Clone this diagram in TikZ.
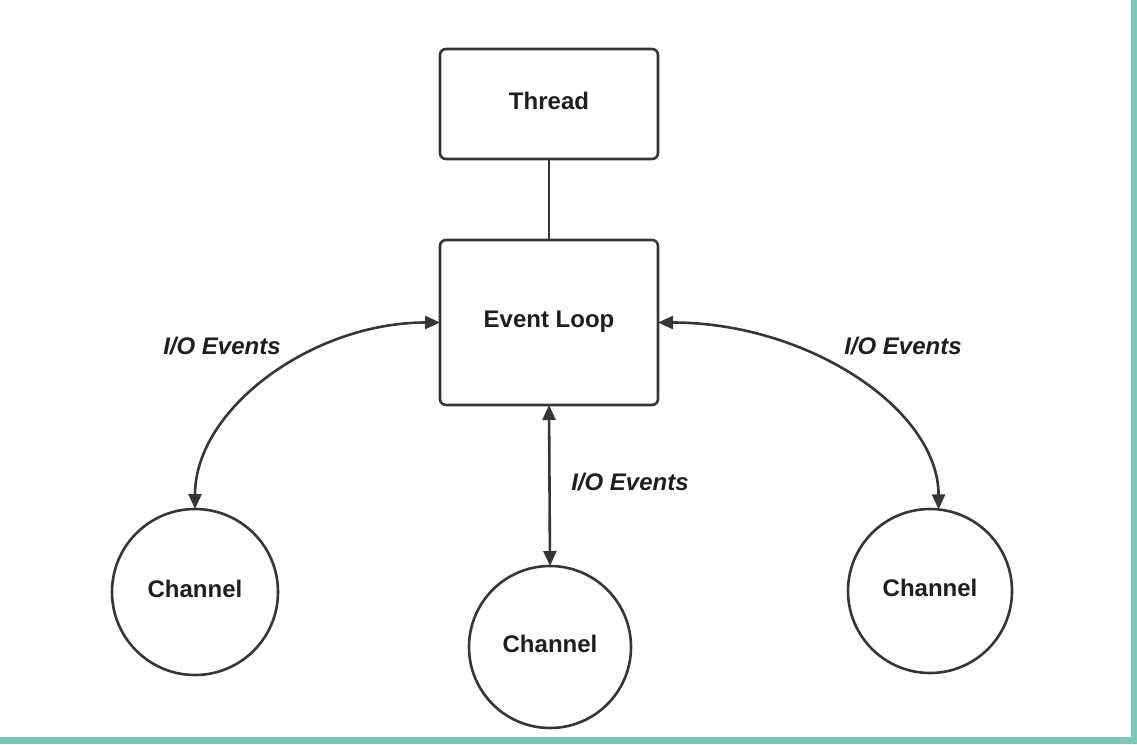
\documentclass[tikz,border=0pt]{standalone}
\usepackage{fontspec}
\setmainfont{Liberation Sans}
\usetikzlibrary{arrows.meta,calc}
\definecolor{linegray}{HTML}{363636}
\definecolor{textgray}{HTML}{1E1E1E}
\definecolor{teal}{HTML}{7CC6B6}
\tikzset{
  box/.style={draw=linegray, line width=2.6pt, rounded corners=6pt, fill=white,
    minimum width=218pt, inner sep=0pt, outer sep=0pt, text depth=6pt,
    font=\fontsize{24}{28}\selectfont\bfseries, text=textgray},
  chan/.style={draw=linegray, line width=2.6pt, circle, fill=white,
    inner sep=0pt, outer sep=0pt, text depth=6pt,
    font=\fontsize{24}{28}\selectfont\bfseries, text=textgray},
  lbl/.style={font=\fontsize{24}{28}\selectfont\bfseries\itshape, text=textgray, inner sep=0pt},
  conn/.style={draw=linegray, line width=2.6pt},
  biarrow/.style={conn, {Triangle[length=15pt,width=13pt]}-{Triangle[length=15pt,width=13pt]}}
}
\begin{document}
\begin{tikzpicture}[x=1pt,y=-1pt]
\useasboundingbox (0,0) rectangle (1137,744);
\fill[white] (0,0) rectangle (1137,744);
\fill[teal] (0,737) rectangle (1137,744);
\fill[teal] (1131,0) rectangle (1137,744);

\node[box, minimum height=110pt] (thread) at (549,104) {Thread};
\node[box, minimum height=165pt] (ev) at (549,322.5) {Event Loop};

\node[chan, minimum size=166pt] (chL) at (195,592) {Channel};
\node[chan, minimum size=162pt] (chM) at (550,647) {Channel};
\node[chan, minimum size=164pt] (chR) at (930,591) {Channel};

\draw[conn] (thread.south) -- (ev.north);

\draw[biarrow] (ev.west) .. controls ($(ev.west)+(-128,0)$) and ($(chL.north)+(0,-100)$) .. (chL.north);
\draw[biarrow] (ev.east) .. controls ($(ev.east)+(150,0)$) and ($(chR.84)+(0,-100)$) .. (chR.84);
\draw[biarrow] (ev.south) -- (chM.north);

\node[lbl] (l1) at (222,346) {I/O Events};
\node[lbl] (l2) at (903,346) {I/O Events};
\node[lbl] (l3) at (630,482) {I/O Events};
\end{tikzpicture}
\end{document}
